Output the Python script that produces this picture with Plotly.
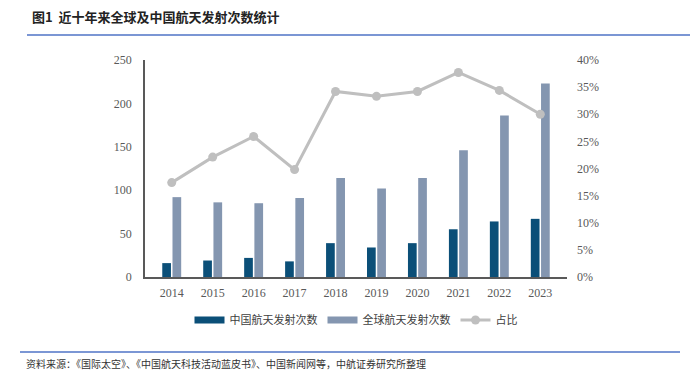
import plotly.graph_objects as go

years = ["2014", "2015", "2016", "2017", "2018", "2019", "2020", "2021", "2022", "2023"]
china = [16, 19, 22, 18, 39, 34, 39, 55, 64, 67]
world = [92, 86, 85, 91, 114, 102, 114, 146, 186, 223]
ratio = [17.4, 22.1, 25.9, 19.8, 34.2, 33.3, 34.2, 37.7, 34.4, 30.0]

serif = "Liberation Serif, DejaVu Serif, serif"
cjk = "Noto Sans CJK SC"
c_china, c_world, c_ratio = "#0b4f78", "#8496b0", "#bfbfbf"

L, R, T, B = 145, 567, 60, 277
W, H = R - L, B - T


def px(x):
    return (x - L) / W


def py(y):
    return (B - y) / H


fig = go.Figure()
fig.add_trace(go.Bar(x=years, y=china, name="中国航天发射次数", marker_color=c_china,
                     marker_line_width=0, showlegend=False))
fig.add_trace(go.Bar(x=years, y=world, name="全球航天发射次数", marker_color=c_world,
                     marker_line_width=0, showlegend=False))
# legend entries (wide rectangle swatches)
fig.add_trace(go.Scatter(x=[None], y=[None], name="中国航天发射次数", mode="lines",
                         line=dict(color=c_china, width=7)))
fig.add_trace(go.Scatter(x=[None], y=[None], name="全球航天发射次数", mode="lines",
                         line=dict(color=c_world, width=7)))
fig.add_trace(go.Scatter(x=years, y=ratio, name="占比", yaxis="y2", mode="lines+markers",
                         line=dict(color=c_ratio, width=3),
                         marker=dict(color=c_ratio, size=9)))

fig.update_layout(
    width=700, height=377, autosize=False,
    paper_bgcolor="white", plot_bgcolor="white",
    margin=dict(l=L, r=700 - R, t=T, b=377 - B),
    barmode="group", bargap=0.5, bargroupgap=0.15,
    showlegend=True,
    legend=dict(orientation="h", x=0.5, xanchor="center", y=py(320), yanchor="middle",
                font=dict(family=cjk, size=11, color="#404040"), itemwidth=30,
                traceorder="normal"),
    xaxis=dict(showline=True, linecolor="#595959", linewidth=1.5, ticks="",
               ticklabelstandoff=4,
               tickfont=dict(family=serif, size=12, color="#595959"), showgrid=False),
    yaxis=dict(range=[0, 250], dtick=50, showline=True, linecolor="#595959", linewidth=1.5,
               showgrid=False, zeroline=False, ticks="", ticklabelstandoff=9,
               tickfont=dict(family=serif, size=12, color="#595959")),
    yaxis2=dict(range=[0, 40], dtick=5, overlaying="y", side="right", showgrid=False,
                zeroline=False, showline=False, ticksuffix="%", ticklabelstandoff=9,
                tickfont=dict(family=serif, size=12, color="#595959")),
)

fig.add_annotation(text="<b>图1  近十年来全球及中国航天发射次数统计</b>", xref="paper", yref="paper",
                   x=px(30), y=py(16), xanchor="left", yanchor="middle",
                   showarrow=False, font=dict(family=cjk, size=13, color="#222222"))
fig.add_annotation(text="资料来源：《国际太空》、《中国航天科技活动蓝皮书》、中国新闻网等，中航证券研究所整理",
                   xref="paper", yref="paper", x=px(24), y=py(363),
                   xanchor="left", yanchor="middle", showarrow=False,
                   font=dict(family=cjk, size=10, color="#333333"))

fig.add_shape(type="line", xref="paper", yref="paper",
              x0=px(27), x1=px(690), y0=py(35), y1=py(35),
              line=dict(color="#7b96d4", width=2))
fig.add_shape(type="line", xref="paper", yref="paper",
              x0=px(20), x1=px(680), y0=py(352), y1=py(352),
              line=dict(color="#7b96d4", width=2))

fig.write_html("out.html", config={"displayModeBar": False},
               post_script="document.body.style.margin='0';document.body.style.overflow='hidden';")
